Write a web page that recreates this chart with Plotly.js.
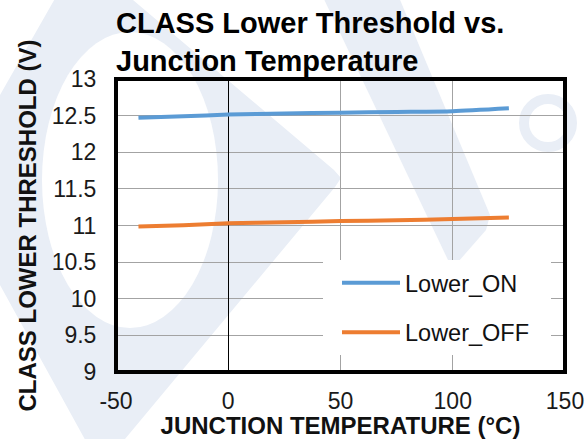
<!DOCTYPE html>
<html>
<head>
<meta charset="utf-8">
<script src="https://cdn.plot.ly/plotly-3.0.1.min.js"></script>
<style>html,body{margin:0;padding:0;background:#fff;}#chart{width:586px;height:439px;}</style>
</head>
<body>
<div id="chart"></div>
<script>
// ---- data ----
const temperature = [-40, -20, 0, 25, 50, 75, 100, 125];
const lowerOn  = [12.47, 12.49, 12.515, 12.53, 12.54, 12.55, 12.56, 12.60];
const lowerOff = [10.985, 11.005, 11.03, 11.045, 11.06, 11.07, 11.09, 11.11];
const seriesNames = ["Lower_ON", "Lower_OFF"];
const xTicks = [-50, 0, 50, 100, 150];
const yTicks = [9, 9.5, 10, 10.5, 11, 11.5, 12, 12.5, 13];

// ---- layout geometry (pixels) ----
const W = 586, H = 439;
const L = 116, R = 565, T = 79, B = 372;
const px = x => (x - L) / (R - L);
const py = y => (B - y) / (B - T);
const P = pts => pts.map((p, i) => (i ? 'L' : 'M') + px(p[0]).toFixed(4) + ',' + py(p[1]).toFixed(4)).join(' ') + ' Z';

const FONT = "Liberation Sans, Arial, sans-serif";
const WM = "#e9eef6";

const shapes = [
  // watermark (decorative)
  {type:'path', xref:'paper', yref:'paper', layer:'below', line:{width:0}, fillcolor:WM,
   path: P([[77,-40],[133,-40],[133,0],[334,170],[341,178],[335,187],[120,445],[88,445],[0,285],[0,95]])},
  {type:'circle', xref:'paper', yref:'paper', layer:'below', line:{width:0}, fillcolor:'#ffffff',
   x0:px(42), x1:px(218), y0:py(328), y1:py(32)},
  {type:'path', xref:'paper', yref:'paper', layer:'below', line:{width:0}, fillcolor:WM,
   path: P([[322,-5],[398,-5],[490,215],[486,230],[458,262],[448,260]])},
  {type:'circle', xref:'paper', yref:'paper', layer:'below', line:{color:WM, width:10}, fillcolor:'rgba(0,0,0,0)',
   x0:px(524), x1:px(572), y0:py(147), y1:py(99)},
  // legend background box
  {type:'rect', xref:'paper', yref:'paper', layer:'above', line:{width:0}, fillcolor:'#ffffff',
   x0:px(323), x1:px(551), y0:py(355), y1:py(260)},
  // plot frame
  {type:'rect', xref:'paper', yref:'paper', layer:'above', line:{color:'#000', width:4}, fillcolor:'rgba(0,0,0,0)',
   x0:0, x1:1, y0:0, y1:1}
];

const traces = [
  {x: temperature, y: lowerOn, name: seriesNames[0], type:'scatter', mode:'lines', legendgroup:'a',
   line:{color:'#5B9BD5', width:4, shape:'spline', smoothing:0.6}},
  {x: temperature, y: lowerOff, name: seriesNames[1], type:'scatter', mode:'lines', legendgroup:'b',
   line:{color:'#ED7D31', width:4, shape:'spline', smoothing:0.6}}
];

const layout = {
  width: W, height: H,
  margin: {l: L, r: W - R, t: T, b: H - B, pad: 0},
  paper_bgcolor: '#ffffff',
  plot_bgcolor: 'rgba(0,0,0,0)',
  font: {family: FONT, color: '#1a1a1a', size: 22},
  title: {
    text: 'CLASS Lower Threshold vs.<br>Junction Temperature',
    font: {family: FONT, size: 29, color: '#000', weight: 'bold'},
    x: L / W, xanchor: 'left', xref: 'container',
    y: 1 - 33 / H, yanchor: 'top', yref: 'container'
  },
  xaxis: {
    range: [-50, 150], tickvals: xTicks, ticktext: xTicks.map(String),
    showgrid: true, gridcolor: '#a3a3a3', gridwidth: 1,
    zeroline: true, zerolinecolor: '#000', zerolinewidth: 1,
    showline: false, ticks: 'outside', ticklen: 8, tickcolor: 'rgba(0,0,0,0)',
    tickfont: {family: FONT, size: 23, color: '#1a1a1a'},
    title: {text: 'JUNCTION TEMPERATURE (°C)', font: {family: FONT, size: 24, color: '#111', weight: 'bold'}, standoff: 0},
    automargin: false, fixedrange: true
  },
  yaxis: {
    range: [9, 13], tickvals: yTicks, ticktext: yTicks.map(String),
    showgrid: true, gridcolor: '#a3a3a3', gridwidth: 1,
    zeroline: false, showline: false,
    ticks: 'outside', ticklen: 14, tickcolor: 'rgba(0,0,0,0)',
    tickfont: {family: FONT, size: 23, color: '#1a1a1a'},
    title: {text: 'CLASS LOWER THRESHOLD (V)', font: {family: FONT, size: 24, color: '#111', weight: 'bold'}, standoff: 8},
    automargin: false, fixedrange: true
  },
  showlegend: true,
  legend: {
    x: px(337), xanchor: 'left', y: py(261), yanchor: 'top',
    bgcolor: 'rgba(0,0,0,0)', borderwidth: 0,
    font: {family: FONT, size: 23.5, color: '#111'},
    itemwidth: 58, tracegroupgap: 16, traceorder: 'grouped'
  },
  shapes: shapes
};

Plotly.newPlot('chart', traces, layout, {staticPlot: true, displayModeBar: false});
</script>
</body>
</html>
